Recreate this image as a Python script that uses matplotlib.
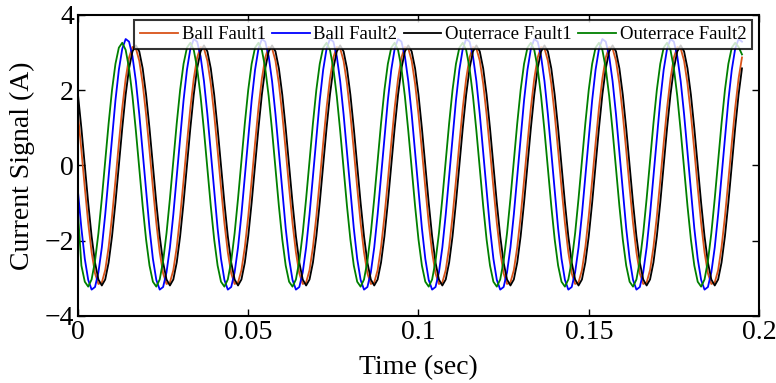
import numpy as np
import matplotlib
matplotlib.use('Agg')
import matplotlib.pyplot as plt

fs = 1000.  # sample rate (Hz)

ball_fault1 = [
    1.35, 0.40, -0.59, -1.53, -2.31, -2.87, -3.15, -3.11, -2.78, -2.17, -1.35, -0.40, 0.59, 1.53, 2.31, 2.87, 3.15, 3.11, 2.78, 2.17,
    1.35, 0.40, -0.59, -1.53, -2.31, -2.87, -3.15, -3.11, -2.78, -2.17, -1.35, -0.40, 0.59, 1.53, 2.31, 2.87, 3.15, 3.11, 2.78, 2.17,
    1.35, 0.40, -0.59, -1.53, -2.31, -2.87, -3.15, -3.11, -2.78, -2.17, -1.35, -0.40, 0.59, 1.53, 2.31, 2.87, 3.15, 3.11, 2.78, 2.17,
    1.35, 0.40, -0.59, -1.53, -2.31, -2.87, -3.15, -3.11, -2.78, -2.17, -1.35, -0.40, 0.59, 1.53, 2.31, 2.87, 3.15, 3.11, 2.78, 2.17,
    1.35, 0.40, -0.59, -1.53, -2.31, -2.87, -3.15, -3.11, -2.78, -2.17, -1.35, -0.40, 0.59, 1.53, 2.31, 2.87, 3.15, 3.11, 2.78, 2.17,
    1.35, 0.40, -0.59, -1.53, -2.31, -2.87, -3.15, -3.11, -2.78, -2.17, -1.35, -0.40, 0.59, 1.53, 2.31, 2.87, 3.15, 3.11, 2.78, 2.17,
    1.35, 0.40, -0.59, -1.53, -2.31, -2.87, -3.15, -3.11, -2.78, -2.17, -1.35, -0.40, 0.59, 1.53, 2.31, 2.87, 3.15, 3.11, 2.78, 2.17,
    1.35, 0.40, -0.59, -1.53, -2.31, -2.87, -3.15, -3.11, -2.78, -2.17, -1.35, -0.40, 0.59, 1.53, 2.31, 2.87, 3.15, 3.11, 2.78, 2.17,
    1.35, 0.40, -0.59, -1.53, -2.31, -2.87, -3.15, -3.11, -2.78, -2.17, -1.35, -0.40, 0.59, 1.53, 2.31, 2.87, 3.15, 3.11, 2.78, 2.17,
    1.35, 0.40, -0.59, -1.53, -2.31, -2.87, -3.15, -3.11, -2.78, -2.17, -1.35, -0.40, 0.59, 1.53, 2.31, 2.87,
]

ball_fault2 = [
    -0.70, -1.67, -2.48, -3.04, -3.30, -3.23, -2.84, -2.18, -1.30, -0.28, 0.76, 1.73, 2.54, 3.10, 3.36, 3.29, 2.90, 2.24, 1.36, 0.34,
    -0.70, -1.67, -2.48, -3.04, -3.30, -3.23, -2.84, -2.18, -1.30, -0.28, 0.76, 1.73, 2.54, 3.10, 3.36, 3.29, 2.90, 2.24, 1.36, 0.34,
    -0.70, -1.67, -2.48, -3.04, -3.30, -3.23, -2.84, -2.18, -1.30, -0.28, 0.76, 1.73, 2.54, 3.10, 3.36, 3.29, 2.90, 2.24, 1.36, 0.34,
    -0.70, -1.67, -2.48, -3.04, -3.30, -3.23, -2.84, -2.18, -1.30, -0.28, 0.76, 1.73, 2.54, 3.10, 3.36, 3.29, 2.90, 2.24, 1.36, 0.34,
    -0.70, -1.67, -2.48, -3.04, -3.30, -3.23, -2.84, -2.18, -1.30, -0.28, 0.76, 1.73, 2.54, 3.10, 3.36, 3.29, 2.90, 2.24, 1.36, 0.34,
    -0.70, -1.67, -2.48, -3.04, -3.30, -3.23, -2.84, -2.18, -1.30, -0.28, 0.76, 1.73, 2.54, 3.10, 3.36, 3.29, 2.90, 2.24, 1.36, 0.34,
    -0.70, -1.67, -2.48, -3.04, -3.30, -3.23, -2.84, -2.18, -1.30, -0.28, 0.76, 1.73, 2.54, 3.10, 3.36, 3.29, 2.90, 2.24, 1.36, 0.34,
    -0.70, -1.67, -2.48, -3.04, -3.30, -3.23, -2.84, -2.18, -1.30, -0.28, 0.76, 1.73, 2.54, 3.10, 3.36, 3.29, 2.90, 2.24, 1.36, 0.34,
    -0.70, -1.67, -2.48, -3.04, -3.30, -3.23, -2.84, -2.18, -1.30, -0.28, 0.76, 1.73, 2.54, 3.10, 3.36, 3.29, 2.90, 2.24, 1.36, 0.34,
    -0.70, -1.67, -2.48, -3.04, -3.30, -3.23, -2.84, -2.18, -1.30, -0.28, 0.76, 1.73, 2.54, 3.10, 3.36, 3.29,
]

outerrace_fault1 = [
    1.88, 0.99, 0.00, -0.99, -1.88, -2.58, -3.03, -3.19, -3.03, -2.58, -1.88, -0.99, 0.00, 0.99, 1.88, 2.58, 3.03, 3.19, 3.03, 2.58,
    1.88, 0.99, 0.00, -0.99, -1.88, -2.58, -3.03, -3.19, -3.03, -2.58, -1.88, -0.99, 0.00, 0.99, 1.88, 2.58, 3.03, 3.19, 3.03, 2.58,
    1.88, 0.99, 0.00, -0.99, -1.88, -2.58, -3.03, -3.19, -3.03, -2.58, -1.88, -0.99, 0.00, 0.99, 1.88, 2.58, 3.03, 3.19, 3.03, 2.58,
    1.88, 0.99, 0.00, -0.99, -1.88, -2.58, -3.03, -3.19, -3.03, -2.58, -1.88, -0.99, 0.00, 0.99, 1.88, 2.58, 3.03, 3.19, 3.03, 2.58,
    1.88, 0.99, 0.00, -0.99, -1.88, -2.58, -3.03, -3.19, -3.03, -2.58, -1.88, -0.99, 0.00, 0.99, 1.88, 2.58, 3.03, 3.19, 3.03, 2.58,
    1.88, 0.99, 0.00, -0.99, -1.88, -2.58, -3.03, -3.19, -3.03, -2.58, -1.88, -0.99, 0.00, 0.99, 1.88, 2.58, 3.03, 3.19, 3.03, 2.58,
    1.88, 0.99, 0.00, -0.99, -1.88, -2.58, -3.03, -3.19, -3.03, -2.58, -1.88, -0.99, 0.00, 0.99, 1.88, 2.58, 3.03, 3.19, 3.03, 2.58,
    1.88, 0.99, 0.00, -0.99, -1.88, -2.58, -3.03, -3.19, -3.03, -2.58, -1.88, -0.99, 0.00, 0.99, 1.88, 2.58, 3.03, 3.19, 3.03, 2.58,
    1.88, 0.99, 0.00, -0.99, -1.88, -2.58, -3.03, -3.19, -3.03, -2.58, -1.88, -0.99, 0.00, 0.99, 1.88, 2.58, 3.03, 3.19, 3.03, 2.58,
    1.88, 0.99, 0.00, -0.99, -1.88, -2.58, -3.03, -3.19, -3.03, -2.58, -1.88, -0.99, 0.00, 0.99, 1.88, 2.58,
]

outerrace_fault2 = [
    -1.27, -2.66, -3.09, -3.22, -3.03, -2.54, -1.80, -0.88, 0.12, 1.12, 2.01, 2.70, 3.13, 3.26, 3.07, 2.58, 1.84, 0.92, -0.08, -1.08,
    -1.97, -2.66, -3.09, -3.22, -3.03, -2.54, -1.80, -0.88, 0.12, 1.12, 2.01, 2.70, 3.13, 3.26, 3.07, 2.58, 1.84, 0.92, -0.08, -1.08,
    -1.97, -2.66, -3.09, -3.22, -3.03, -2.54, -1.80, -0.88, 0.12, 1.12, 2.01, 2.70, 3.13, 3.26, 3.07, 2.58, 1.84, 0.92, -0.08, -1.08,
    -1.97, -2.66, -3.09, -3.22, -3.03, -2.54, -1.80, -0.88, 0.12, 1.12, 2.01, 2.70, 3.13, 3.26, 3.07, 2.58, 1.84, 0.92, -0.08, -1.08,
    -1.97, -2.66, -3.09, -3.22, -3.03, -2.54, -1.80, -0.88, 0.12, 1.12, 2.01, 2.70, 3.13, 3.26, 3.07, 2.58, 1.84, 0.92, -0.08, -1.08,
    -1.97, -2.66, -3.09, -3.22, -3.03, -2.54, -1.80, -0.88, 0.12, 1.12, 2.01, 2.70, 3.13, 3.26, 3.07, 2.58, 1.84, 0.92, -0.08, -1.08,
    -1.97, -2.66, -3.09, -3.22, -3.03, -2.54, -1.80, -0.88, 0.12, 1.12, 2.01, 2.70, 3.13, 3.26, 3.07, 2.58, 1.84, 0.92, -0.08, -1.08,
    -1.97, -2.66, -3.09, -3.22, -3.03, -2.54, -1.80, -0.88, 0.12, 1.12, 2.01, 2.70, 3.13, 3.26, 3.07, 2.58, 1.84, 0.92, -0.08, -1.08,
    -1.97, -2.66, -3.09, -3.22, -3.03, -2.54, -1.80, -0.88, 0.12, 1.12, 2.01, 2.70, 3.13, 3.26, 3.07, 2.58, 1.84, 0.92, -0.08, -1.08,
    -1.97, -2.66, -3.09, -3.22, -3.03, -2.54, -1.80, -0.88, 0.12, 1.12, 2.01, 2.70, 3.13, 3.26, 3.15, 2.95,
]

labels = ['Ball Fault1', 'Ball Fault2', 'Outerrace Fault1', 'Outerrace Fault2']
colors = ['#D95319', '#0000FF', '#000000', '#008000']

xticks = [0, 0.05, 0.1, 0.15, 0.2]
xticklabels = ['0', '0.05', '0.1', '0.15', '0.2']
yticks = [-4, -2, 0, 2, 4]

plt.rcParams['font.family'] = ['Liberation Serif', 'DejaVu Serif']

fig = plt.figure(figsize=(7.76, 3.83), dpi=100)
ax = fig.add_axes([0.1005, 0.175, 0.8776, 0.786])

signals = [ball_fault1, ball_fault2, outerrace_fault1, outerrace_fault2]
for sig, lab, col in zip(signals, labels, colors):
    t = np.arange(len(sig)) / fs
    ax.plot(t, sig, color=col, lw=1.3, label=lab)

ax.set_xlim(0, 0.2)
ax.set_ylim(-4, 4)
ax.set_xticks(xticks)
ax.set_xticklabels(xticklabels)
ax.set_yticks(yticks)
ax.tick_params(direction='in', top=True, right=True, length=5, width=1.0,
               labelsize=20, pad=3)
for s in ax.spines.values():
    s.set_linewidth(1.5)

ax.set_xlabel('Time (sec)', fontsize=20, labelpad=7)
ax.set_ylabel('Current Signal (A)', fontsize=20, labelpad=7)

leg = ax.legend(loc='upper right', bbox_to_anchor=(0.99, 0.983), ncol=4,
                fontsize=13.5, frameon=True, fancybox=False, borderpad=0.32,
                handlelength=2.0, handletextpad=0.2, columnspacing=0.35,
                borderaxespad=0)
leg.get_frame().set_edgecolor('black')
leg.get_frame().set_linewidth(1.5)

fig.savefig('out.png', dpi=100)
